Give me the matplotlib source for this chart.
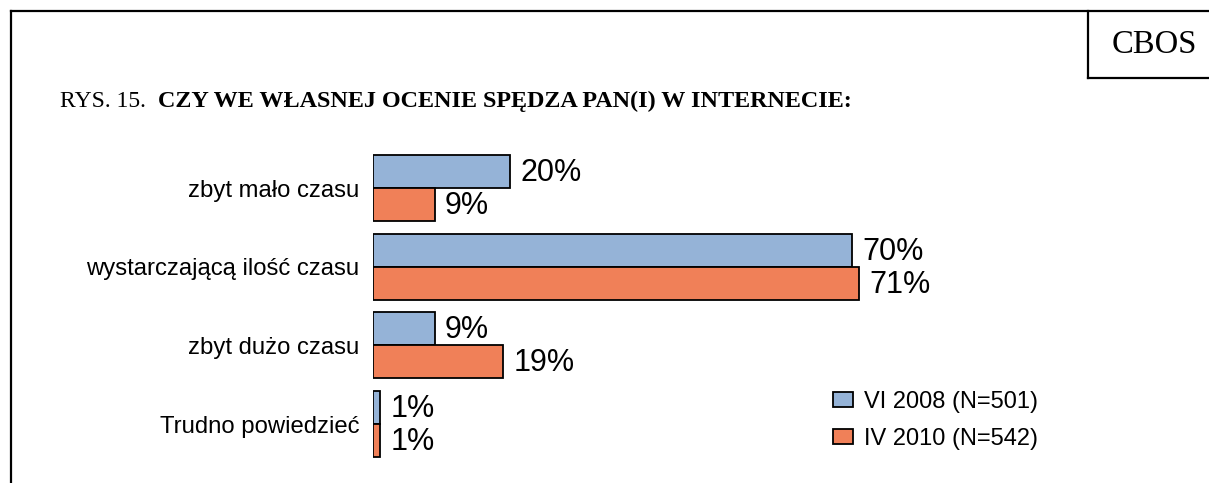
import matplotlib
matplotlib.use("Agg")
import matplotlib.pyplot as plt
from matplotlib.lines import Line2D
from matplotlib.patches import Patch
import numpy as np

categories = ["zbyt mało czasu", "wystarczającą ilość czasu", "zbyt dużo czasu", "Trudno powiedzieć"]
series_names = ["VI 2008 (N=501)", "IV 2010 (N=542)"]
values_2008 = [20, 70, 9, 1]
values_2010 = [9, 71, 19, 1]

blue = "#95B3D7"
orange = "#F08058"

W, H = 1209, 483
fig = plt.figure(figsize=(W / 100, H / 100), dpi=100)

def fx(px):
    return px / W

def fy(py):
    return 1 - py / H

# frame lines
for (x0, y0, x1, y1) in [(11, 11, 1209, 11), (11, 11, 11, 483), (1088, 11, 1088, 78), (1088, 78, 1209, 78)]:
    fig.add_artist(Line2D([fx(x0), fx(x1)], [fy(y0), fy(y1)], color="black", lw=1.6,
                          transform=fig.transFigure, solid_capstyle="projecting"))

fig.text(fx(1154), fy(45), "CBOS", family="Liberation Serif", fontsize=23.5,
         ha="center", va="center")

overlay = fig.add_axes([0, 0, 1, 1])
overlay.set_axis_off()
overlay.set_xlim(0, 1)
overlay.set_ylim(0, 1)
t1 = overlay.text(fx(60), fy(107), "RYS. 15.  ", family="Liberation Serif", fontsize=17,
                  ha="left", va="baseline")
overlay.annotate("CZY WE WŁASNEJ OCENIE SPĘDZA PAN(I) W INTERNECIE:", xy=(1, 0), xycoords=t1,
                 family="Liberation Serif", fontsize=17.4, fontweight="bold", ha="left", va="bottom")

# bars axes
left_px = 373
scale = 6.84
group_h = 78.7
top_px = 188 - group_h / 2
ax = fig.add_axes([fx(left_px), fy(top_px + 4 * group_h), 100 * scale / W, 4 * group_h / H])
ax.set_xlim(0, 100)
ax.set_ylim(3.5, -0.5)
y = np.arange(len(categories))
bh = 33 / group_h
b1 = ax.barh(y - bh / 2, values_2008, height=bh, color=blue, edgecolor="black", linewidth=1.3)
b2 = ax.barh(y + bh / 2, values_2010, height=bh, color=orange, edgecolor="black", linewidth=1.3)
for bars, vals in [(b1, values_2008), (b2, values_2010)]:
    for rect, v in zip(bars, vals):
        ax.annotate(f"{v}%", xy=(rect.get_width(), rect.get_y() + rect.get_height() / 2),
                    xytext=(7.5, -1), textcoords="offset points", ha="left", va="center",
                    family="Liberation Sans", fontsize=22)
ax.set_yticks(y)
ax.set_yticklabels(categories, family="Liberation Sans", fontsize=17.2)
ax.tick_params(axis="y", length=0, pad=10)
ax.set_xticks([])
for s in ax.spines.values():
    s.set_visible(False)
ax.patch.set_alpha(0)

handles = [Patch(facecolor=blue, edgecolor="black", linewidth=1.3),
           Patch(facecolor=orange, edgecolor="black", linewidth=1.3)]
fig.legend(handles, series_names, loc="upper left", bbox_to_anchor=(fx(833), fy(391)),
           frameon=False, borderpad=0, borderaxespad=0, handlelength=0.85, handleheight=0.6,
           handletextpad=0.45, labelspacing=0.63, prop={"family": "Liberation Sans", "size": 17})

fig.savefig("out.png", dpi=100)
